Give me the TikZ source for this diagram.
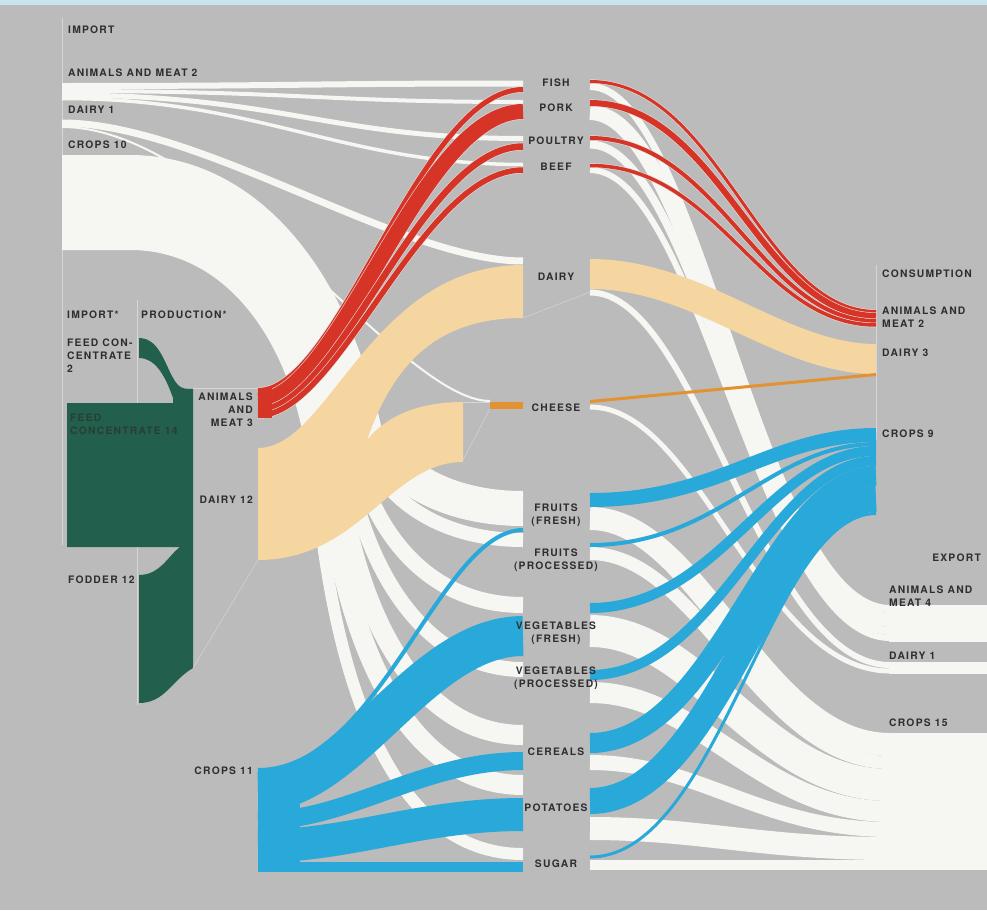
\documentclass[tikz,border=0pt]{standalone}
\usepackage{fontspec}
\newfontfamily\lblfont{TeX Gyre Heros}[LetterSpace=12]
\definecolor{bggray}{HTML}{BBBBBB}
\definecolor{topblue}{HTML}{C9E4EC}
\definecolor{guidegray}{HTML}{D6D6D6}
\definecolor{flowwhite}{HTML}{F6F6F3}
\definecolor{caseline}{HTML}{E2DCDA}
\definecolor{meatred}{HTML}{D63426}
\definecolor{dairybeige}{HTML}{F5D5A0}
\definecolor{cheeseorange}{HTML}{E29230}
\definecolor{cropblue}{HTML}{29A9D9}
\definecolor{feedgreen}{HTML}{22604D}
\definecolor{lbltext}{HTML}{2E2E2E}
\definecolor{feedtext}{HTML}{2A3D35}

% a flow: from (x1,y1) to (x2,y2), control x values c1 and c2, width w
\newcommand{\strand}[8][flowwhite]{\draw[#1,line width=#8pt] (#2,#3) .. controls (#4,#3) and (#5,#7) .. (#6,#7);}
\newcommand{\redstrand}[7]{\pgfmathsetmacro\gapw{#7+1.2}%
  \strand[caseline]{#1}{#2}{#3}{#4}{#5}{#6}{\gapw}\strand[meatred]{#1}{#2}{#3}{#4}{#5}{#6}{#7}}

\tikzset{
  lbl/.style={font=\lblfont\bfseries\fontsize{10.3}{13}\selectfont,text=lbltext,inner sep=0pt},
  lblw/.style={lbl,anchor=west,align=left},
  lble/.style={lbl,anchor=east,align=right},
  lblc/.style={lbl,align=center},
  guide/.style={draw=guidegray,line width=0.7pt},
  hair/.style={draw=guidegray,line width=0.5pt},
}

\begin{document}
\begin{tikzpicture}[x=1pt,y=-1pt]
\useasboundingbox (0,0) rectangle (987,910);
\fill[bggray] (0,0) rectangle (987,910);
\fill[topblue] (0,0) rectangle (987,5);

% column guides
\draw[guide] (62,18) -- (62,545);
\draw[guide] (137,300) -- (137,705);
\draw[guide] (876,265) -- (876,440);

% import: animals and meat, dairy
\strand{62}{86}{300}{300}{523}{83.5}{6}
\strand{62}{91}{300}{320}{523}{102}{4}
\strand{62}{95}{280}{330}{523}{138.5}{5}
\strand{62}{98.5}{260}{340}{523}{164.5}{3.5}
\strand{62}{123}{200}{400}{523}{261}{7}
\strand{62}{127}{220}{400}{490}{401}{2}

% import: crops
\fill[flowwhite] (62,155) -- (130,155) .. controls (250,155) and (350,260) .. (385,445)
  -- (305,445) .. controls (285,330) and (220,250) .. (130,250) -- (62,250) -- cycle;
\foreach \xs/\k/\cc/\yc/\w in {372/40/440/508.5/35, 358/60/430/540/14, 350/90/420/605/16,
  342/130/420/669.5/15, 332/170/410/735/20, 322/200/400/785/20, 312/250/390/854/12}
  {\draw[flowwhite,line width=\w pt] (\xs,430) .. controls ({\xs+15},{430+\k}) and (\cc,\yc) .. (523,\yc);}

% export
\foreach \ya/\yb/\w in {86.5/608.5/7, 112.5/619.5/15, 144.5/631/8, 170/638/6, 292.5/665/6, 407/671/5,
  518.5/744.5/23, 553.5/762.5/13, 631/785/32, 692.5/811.5/21, 762.5/829.5/15, 828.5/848.5/23, 865/865/10}
  {\strand{590}{\ya}{700}{760}{890}{\yb}{\w}}
\fill[flowwhite] (889,605) rectangle (987,642);
\fill[flowwhite] (889,662) rectangle (987,674);
\fill[flowwhite] (889,733) rectangle (987,870);

% dairy
\fill[dairybeige] (258,448) .. controls (330,448) and (370,265) .. (523,265) -- (523,318)
  .. controls (440,318) and (395,360) .. (367,440) .. controls (390,412) and (425,402) .. (463,402)
  -- (463,462) .. controls (390,462) and (360,560) .. (258,560) -- cycle;
\strand[dairybeige]{590}{274}{700}{780}{876}{359}{30}
\fill[cheeseorange] (490,402) rectangle (523,409);
\draw[cheeseorange,line width=3pt] (590,401.5) -- (876,374.5);

% animals and meat
\foreach \ya/\yb/\w in {390.5/89.5/5, 400/111.5/15, 410/146.5/6.5, 415.5/170/5.5}
  {\redstrand{258}{\ya}{340}{420}{523}{\yb}{\w}}
\fill[meatred] (258,388) rectangle (272,418);
\foreach \ya/\yb/\w in {81.5/311.5/3, 103/316/6, 138/321/4, 165.5/325/3.5}
  {\redstrand{590}{\ya}{720}{760}{876}{\yb}{\w}}

% crops
\foreach \ya/\ca/\cb/\yb/\w in {770/380/440/530/4, 792/350/420/636/40, 821/350/420/761/18,
  846/350/420/814.5/33, 867/350/420/867/10}
  {\strand[cropblue]{258}{\ya}{\ca}{\cb}{523}{\yb}{\w}}
\fill[cropblue] (258,768) rectangle (300,872);
\foreach \ya/\yb/\w in {500/435/14, 545/444/4, 608/451/10, 675/461/10, 743/476/20, 801/499/26, 857/513.5/3}
  {\strand[cropblue]{590}{\ya}{720}{770}{876}{\yb}{\w}}

% feed
\fill[feedgreen] (139,338) .. controls (162,338) and (166,372) .. (178,385)
  .. controls (182,389) and (187,389) .. (193,389) -- (193,668)
  .. controls (172,680) and (165,703) .. (139,703) -- (139,575)
  .. controls (160,575) and (168,556) .. (180,547) -- (67,547) -- (67,403) -- (173,403) -- (173,398)
  .. controls (165,375) and (155,358) .. (139,358) -- cycle;

% node edges
\draw[hair] (193,388) -- (258,388);
\draw[hair] (258,560) -- (193,668);
\draw[hair] (463,402) -- (490,402);
\draw[hair] (463,460) -- (490,409);
\draw[hair] (523,318) -- (590,292);

% labels
\node[lblw] (impTitle) at (68,30) {IMPORT};
\node[lblw] (impMeat) at (68,73) {ANIMALS AND MEAT 2};
\node[lblw] (impDairy) at (68,110) {DAIRY 1};
\node[lblw] (impCrops) at (68,145) {CROPS 10};
\node[lblw] (impStar) at (67,315) {IMPORT*};
\node[lblw] (prodStar) at (141,315) {PRODUCTION*};
\node[lblw] (feedImp) at (67,356) {FEED CON-\\CENTRATE\\2};
\node[lblw,text=feedtext] (feedProd) at (70,424) {FEED\\CONCENTRATE 14};
\node[lblw] (fodder) at (68,580) {FODDER 12};
\node[lble] (prodMeat) at (253,410) {ANIMALS\\AND\\MEAT 3};
\node[lble] (prodDairy) at (253,500) {DAIRY 12};
\node[lble] (prodCrops) at (253,771) {CROPS 11};

\node[lblc] (fish) at (556,83) {FISH};
\node[lblc] (pork) at (556,108) {PORK};
\node[lblc] (poultry) at (556,141) {POULTRY};
\node[lblc] (beef) at (556,167) {BEEF};
\node[lblc] (dairy) at (556,277) {DAIRY};
\node[lblc] (cheese) at (556,408) {CHEESE};
\node[lblc] (fruitsFresh) at (556,515) {FRUITS\\(FRESH)};
\node[lblc] (fruitsProc) at (556,560) {FRUITS\\(PROCESSED)};
\node[lblc] (vegFresh) at (556,633.5) {VEGETABLES\\(FRESH)};
\node[lblc] (vegProc) at (556,678) {VEGETABLES\\(PROCESSED)};
\node[lblc] (cereals) at (556,752) {CEREALS};
\node[lblc] (potatoes) at (556,808) {POTATOES};
\node[lblc] (sugar) at (556,864) {SUGAR};

\node[lblw] (consTitle) at (882,274) {CONSUMPTION};
\node[lblw] (consMeat) at (882,317) {ANIMALS AND\\MEAT 2};
\node[lblw] (consDairy) at (882,353) {DAIRY 3};
\node[lblw] (consCrops) at (882,434) {CROPS 9};
\node[lble] (expTitle) at (981,558) {EXPORT};
\node[lblw] (expMeat) at (889,596.5) {ANIMALS AND\\MEAT 4};
\node[lblw] (expDairy) at (889,656) {DAIRY 1};
\node[lblw] (expCrops) at (889,723) {CROPS 15};
\end{tikzpicture}
\end{document}
